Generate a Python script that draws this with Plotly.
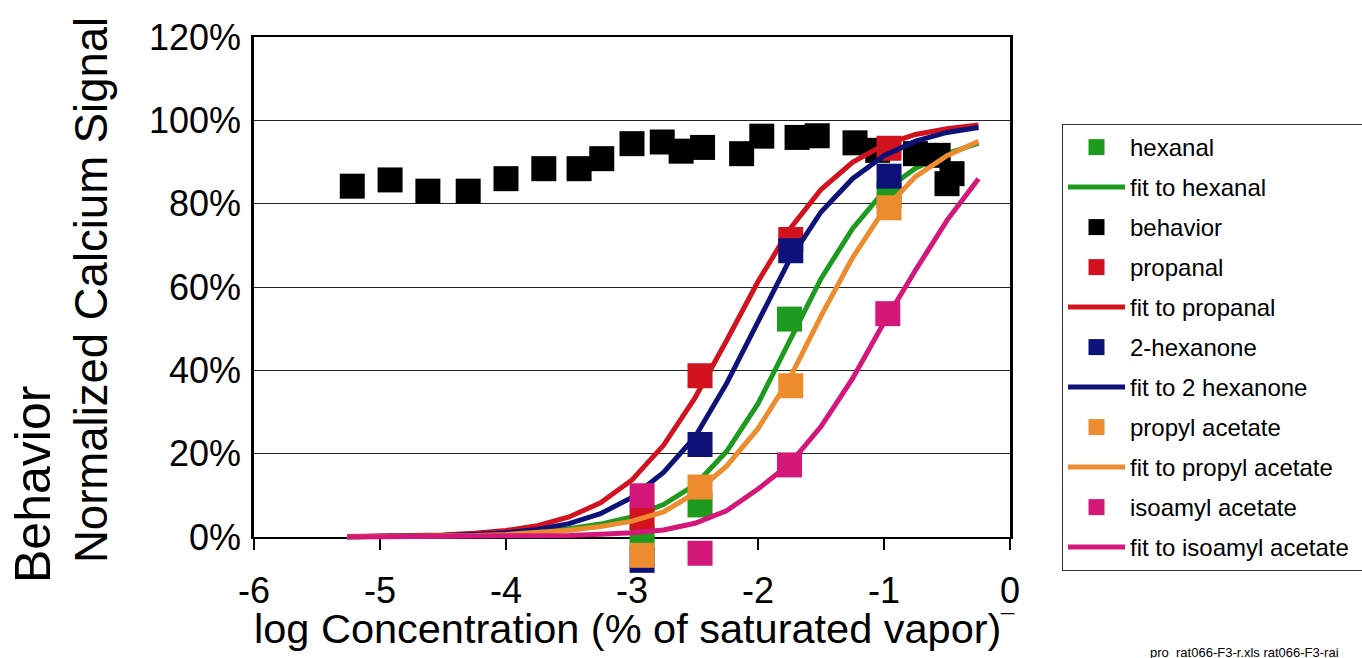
import plotly.graph_objects as go

# ---- data ----
hexanal_x = [-2.92, -2.46, -1.75, -0.96]
hexanal_y = [0.0, 7.7, 52.3, 82.0]
propanal_x = [-2.92, -2.46, -1.74, -0.96]
propanal_y = [4.7, 38.7, 71.4, 93.3]
hexanone_x = [-2.92, -2.46, -1.74, -0.96]
hexanone_y = [-5.6, 22.2, 68.7, 86.6]
propyl_x = [-2.92, -2.46, -1.74, -0.96]
propyl_y = [-4.4, 12.0, 36.3, 79.0]
isoamyl_x = [-2.92, -2.46, -1.75, -0.97]
isoamyl_y = [9.9, -3.9, 17.3, 53.6]

behavior_x = [-5.22, -4.92, -4.62, -4.30, -4.00, -3.70, -3.42, -3.24, -3.00, -2.76, -2.61,
              -2.44, -2.13, -1.97, -1.69, -1.53, -1.23, -1.05, -0.75, -0.57, -0.50, -0.46]
behavior_y = [84.2, 85.7, 83.0, 83.0, 86.0, 88.4, 88.4, 90.8, 94.4, 94.8, 92.6,
              93.5, 92.0, 96.2, 95.9, 96.3, 94.6, 92.8, 92.0, 91.6, 84.8, 87.2]

fit_x = [-5.26, -5.0, -4.75, -4.5, -4.25, -4.0, -3.75, -3.5, -3.25, -3.0, -2.75,
         -2.5, -2.25, -2.0, -1.75, -1.5, -1.25, -1.0, -0.75, -0.5, -0.25]
fit_hexanal = [0.05, 0.1, 0.15, 0.25, 0.45, 0.8, 1.3, 2.0, 3.1, 4.8, 7.8,
               12.5, 20.5, 32.0, 47.0, 62.0, 74.0, 83.0, 88.5, 92.0, 94.5]
fit_propanal = [0.09, 0.16, 0.28, 0.5, 0.88, 1.56, 2.7, 4.8, 8.2, 13.7, 22.0,
                33.4, 47.1, 61.3, 73.8, 83.4, 89.9, 94.1, 96.6, 98.0, 98.9]
fit_hexanone = [0.06, 0.1, 0.19, 0.33, 0.59, 1.04, 1.8, 3.2, 5.6, 9.5, 15.5,
                24.0, 36.8, 51.5, 66.5, 78.0, 86.0, 91.5, 95.0, 97.1, 98.3]
fit_propyl = [0.04, 0.07, 0.12, 0.2, 0.35, 0.6, 1.0, 1.6, 2.5, 3.8, 6.0,
              10.5, 17.0, 26.0, 38.0, 53.0, 67.0, 78.5, 86.5, 91.5, 95.0]
fit_isoamyl = [0.0, 0.02, 0.03, 0.05, 0.08, 0.13, 0.22, 0.38, 0.65, 1.0, 1.7,
               3.3, 6.3, 11.5, 17.5, 26.5, 38.0, 51.5, 64.0, 76.0, 86.0]

x_ticks = [-6, -5, -4, -3, -2, -1, 0]
y_ticks = [0, 20, 40, 60, 80, 100, 120]

GREEN = "#1e9b1e"
RED = "#d2121e"
NAVY = "#0c1278"
ORANGE = "#ec8c2e"
PINK = "#d4187a"
BLACK = "#000000"
FONT = "Liberation Sans, Arial, sans-serif"
MS = 25
LW = 5

fig = go.Figure()

# empty trace so that the framed x/y subplot (axes + gridlines) is created
fig.add_trace(go.Scatter(x=[None], y=[None], mode="markers", showlegend=False,
                         hoverinfo="skip", xaxis="x", yaxis="y"))


def pts(x, y, name, color, grp):
    fig.add_trace(go.Scatter(x=x, y=y, mode="markers", name=name, legendgroup=grp,
                             xaxis="x", yaxis="y2",
                             marker=dict(symbol="square", size=MS, color=color,
                                         line=dict(width=0)),
                             cliponaxis=False))


def fit(x, y, name, color, grp):
    fig.add_trace(go.Scatter(x=x, y=y, mode="lines", name=name, legendgroup=grp,
                             xaxis="x", yaxis="y2",
                             line=dict(color=color, width=LW), cliponaxis=False))


pts(hexanal_x, hexanal_y, "hexanal", GREEN, "g1")
fit(fit_x, fit_hexanal, "fit to hexanal", GREEN, "g2")
pts(behavior_x, behavior_y, "behavior", BLACK, "g3")
pts(propanal_x, propanal_y, "propanal", RED, "g4")
fit(fit_x, fit_propanal, "fit to propanal", RED, "g5")
pts(hexanone_x, hexanone_y, "2-hexanone", NAVY, "g6")
fit(fit_x, fit_hexanone, "fit to 2 hexanone", NAVY, "g7")
pts(propyl_x, propyl_y, "propyl acetate", ORANGE, "g8")
fit(fit_x, fit_propyl, "fit to propyl acetate", ORANGE, "g9")
pts(isoamyl_x, isoamyl_y, "isoamyl acetate", PINK, "g10")
fit(fit_x, fit_isoamyl, "fit to isoamyl acetate\u00a0\u00a0", PINK, "g11")

# plot frame: 0% at y=537px, 120% at y=37px; extra room below 0 for markers
L, R, T, B = 254, 352, 37, 79
PW, PH = 1362 - L - R, 658 - T - B
Y0_PX = 537
y_dom0 = (658 - B - Y0_PX) / PH
y2_low = -(658 - B - Y0_PX) / (500 / 120)


def px(xp):
    return (xp - L) / PW


def py(yp):
    return (658 - B - yp) / PH


fig.update_layout(
    width=1362, height=658,
    margin=dict(l=L, r=R, t=T, b=B, pad=0, autoexpand=False),
    paper_bgcolor="white", plot_bgcolor="rgba(0,0,0,0)",
    font=dict(family=FONT, color="black"),
    showlegend=True,
    legend=dict(x=px(1062), y=py(124), xanchor="left", yanchor="top",
                bordercolor="#333333", borderwidth=1, bgcolor="white",
                font=dict(size=24, family=FONT, color="black"),
                itemwidth=57, tracegroupgap=5.8, itemsizing="trace",
                traceorder="grouped"),
    xaxis=dict(range=[-6, 0], tickvals=x_ticks, ticktext=[str(v) for v in x_ticks],
               anchor="y", showgrid=False, zeroline=False, showline=True,
               linecolor="black", linewidth=2, mirror=True, ticks="outside",
               ticklen=11, tickwidth=1.5, tickcolor="black",
               tickfont=dict(size=36, family=FONT), ticklabelstandoff=10,
               automargin=False),
    yaxis=dict(range=[0, 120], domain=[y_dom0, 1], anchor="x", tickvals=y_ticks,
               ticktext=[f"{v}%" for v in y_ticks],
               showgrid=True, gridcolor="#222222", gridwidth=1.2, zeroline=False,
               showline=True, linecolor="black", linewidth=2.5, mirror=True,
               ticks="", tickfont=dict(size=36, family=FONT), ticklabelstandoff=3,
               automargin=False),
    yaxis2=dict(range=[y2_low, 120], domain=[0, 1], anchor="x", visible=False,
                showgrid=False, zeroline=False, automargin=False),
    annotations=[
        dict(text="log Concentration (% of saturated vapor)", x=px(627), y=py(628),
             xref="paper", yref="paper", showarrow=False, xanchor="center",
             yanchor="middle", font=dict(size=41.5, family=FONT)),
        dict(text="¯", x=px(1007), y=py(622), xref="paper", yref="paper",
             showarrow=False, xanchor="center", yanchor="middle",
             font=dict(size=24, family=FONT)),
        dict(text="Normalized Calcium Signal", x=px(91), y=py(290), xref="paper",
             yref="paper", showarrow=False, textangle=-90, xanchor="center",
             yanchor="middle", font=dict(size=45.5, family=FONT)),
        dict(text="Behavior", x=px(33), y=py(485), xref="paper", yref="paper",
             showarrow=False, textangle=-90, xanchor="center", yanchor="middle",
             font=dict(size=50, family=FONT)),
        dict(text="pro_rat066-F3-r.xls rat066-F3-rai", x=px(1148), y=py(652),
             xref="paper", yref="paper", showarrow=False, xanchor="left",
             yanchor="middle", font=dict(size=13, family=FONT)),
    ],
)

fig.write_html(
    "out.html",
    config={"displayModeBar": False},
    post_script="document.body.style.margin='0';document.body.style.padding='0';"
                "document.body.style.overflow='hidden';",
)
